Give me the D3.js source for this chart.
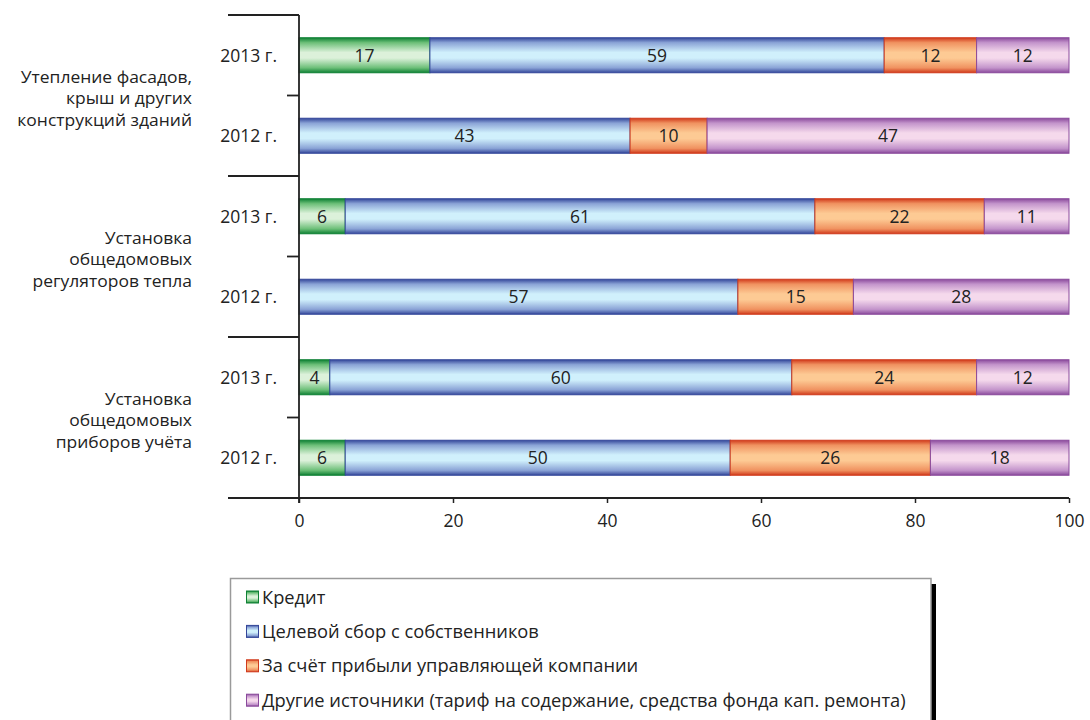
<!DOCTYPE html>
<html>
<head>
<meta charset="utf-8">
<script src="https://cdn.jsdelivr.net/npm/d3@7"></script>
<style>
  html, body { margin: 0; padding: 0; background: #fff; }
  svg text { font-family: "Open Sans", "Noto Sans", sans-serif; fill: #222; }
</style>
</head>
<body>
<svg id="chart" width="1090" height="720"></svg>
<script>
// Sources of financing, % of total, per measure and year
const groups = [
  ["Утепление фасадов,", "крыш и других", "конструкций зданий"],
  ["Установка", "общедомовых", "регуляторов тепла"],
  ["Установка", "общедомовых", "приборов учёта"]
];
const years = ["2013 г.", "2012 г."];
const seriesNames = [
  "Кредит",
  "Целевой сбор с собственников",
  "За счёт прибыли управляющей компании",
  "Другие источники (тариф на содержание, средства фонда кап. ремонта)"
];
// one row per (group, year), top to bottom
const credit   = [17, 0, 6, 0, 4, 6];
const owners   = [59, 43, 61, 57, 60, 50];
const company  = [12, 10, 22, 15, 24, 26];
const other    = [12, 47, 11, 28, 12, 18];
const xTicks = [0, 20, 40, 60, 80, 100];

const palette = [
  { dark: "#0e8034", mid: "#6cbf78", light: "#dcf1da" },
  { dark: "#34479a", mid: "#8aa3d6", light: "#d0f0fc" },
  { dark: "#d03a1c", mid: "#f09260", light: "#fdca94" },
  { dark: "#8a4a9c", mid: "#c394cb", light: "#f5d9ec" }
];

const svg = d3.select("#chart");
const defs = svg.append("defs");
palette.forEach((c, i) => {
  const g = defs.append("linearGradient")
    .attr("id", "grad" + i).attr("x1", 0).attr("y1", 0).attr("x2", 0).attr("y2", 1);
  [[0, c.dark], [0.14, c.mid], [0.42, c.light], [0.58, c.light], [0.86, c.mid], [1, c.dark]]
    .forEach(([o, col]) => g.append("stop").attr("offset", o).attr("stop-color", col));
});

const rows = d3.range(6);
const values = [credit, owners, company, other];
const table = rows.map(r => {
  const d = { row: r };
  values.forEach((arr, k) => d["s" + k] = arr[r]);
  return d;
});
const keys = ["s0", "s1", "s2", "s3"];
const stacked = d3.stack().keys(keys)(table);

const x = d3.scaleLinear().domain([0, 100]).range([299, 1069]);
const y = d3.scaleBand().domain(rows).range([15, 498])
  .paddingInner(0.565).paddingOuter(0.2825);

const fs = 17.5;

// bars
stacked.forEach((layer, k) => {
  const g = svg.append("g");
  layer.forEach((seg, r) => {
    const v = seg[1] - seg[0];
    if (v <= 0) return;
    g.append("rect")
      .attr("x", x(seg[0])).attr("y", y(r))
      .attr("width", x(seg[1]) - x(seg[0])).attr("height", y.bandwidth())
      .attr("fill", `url(#grad${k})`)
      .attr("stroke", palette[k].dark).attr("stroke-width", 1);
    g.append("text")
      .attr("x", (x(seg[0]) + x(seg[1])) / 2)
      .attr("y", y(r) + y.bandwidth() / 2)
      .attr("dy", "0.36em").attr("text-anchor", "middle")
      .attr("font-size", fs)
      .text(v);
  });
});

// x axis
const xAxis = svg.append("g").attr("transform", "translate(0,498)")
  .call(d3.axisBottom(x).tickValues(xTicks).tickSize(5).tickPadding(12).tickFormat(d3.format("d")));
xAxis.select(".domain").remove();
xAxis.selectAll(".tick line").attr("stroke", "#222").attr("stroke-width", 1.5);
xAxis.selectAll(".tick text").attr("font-size", fs).attr("font-family", "'Open Sans', sans-serif").attr("fill", "#222");
svg.append("line").attr("x1", 228).attr("x2", 1069).attr("y1", 498).attr("y2", 498)
  .attr("stroke", "#222").attr("stroke-width", 1.8);

// y axis line
svg.append("line").attr("x1", 299).attr("x2", 299).attr("y1", 15).attr("y2", 503)
  .attr("stroke", "#222").attr("stroke-width", 1.8);

// row separators: long between groups, short between years
const step = y.step();
const boundary = r => y(r) - (step - y.bandwidth()) / 2;
d3.range(7).forEach(r => {
  const yy = r < 6 ? boundary(r) : 498;
  const long = r % 2 === 0;
  svg.append("line")
    .attr("x1", long ? 228 : 287).attr("x2", 299)
    .attr("y1", yy).attr("y2", yy)
    .attr("stroke", "#222").attr("stroke-width", 1.8);
});

// year labels
rows.forEach(r => {
  svg.append("text")
    .attr("x", 277).attr("y", y(r) + y.bandwidth() / 2)
    .attr("dy", "0.36em").attr("text-anchor", "end").attr("font-size", fs)
    .text(years[r % 2]);
});

// group labels (slightly widened, three lines each)
groups.forEach((lines, gi) => {
  const cy = (boundary(gi * 2) + boundary(gi * 2 + 1) + step) / 2 + 3;
  const t = svg.append("text").attr("text-anchor", "end").attr("font-size", 15.6)
    .attr("transform", "translate(192,0) scale(1.12,1)");
  lines.forEach((ln, li) => {
    t.append("tspan").attr("x", 0).attr("y", cy + (li - 1) * 21.4).attr("dy", "0.36em").text(ln);
  });
});

// legend
const lg = svg.append("g");
lg.append("rect").attr("x", 931).attr("y", 584).attr("width", 5).attr("height", 140).attr("fill", "#000");
lg.append("rect").attr("x", 230.5).attr("y", 578.5).attr("width", 700.5).attr("height", 150)
  .attr("fill", "#fff").attr("stroke", "#9a9a9a").attr("stroke-width", 1.5);
seriesNames.forEach((name, k) => {
  const cy = 597 + k * 34.4;
  lg.append("rect").attr("x", 246.5).attr("y", cy - 6).attr("width", 12).attr("height", 12)
    .attr("fill", `url(#grad${k})`).attr("stroke", palette[k].dark).attr("stroke-width", 1);
  lg.append("text").attr("x", 262).attr("y", cy).attr("dy", "0.36em")
    .attr("font-size", 18.3).text(name);
});
</script>
</body>
</html>
